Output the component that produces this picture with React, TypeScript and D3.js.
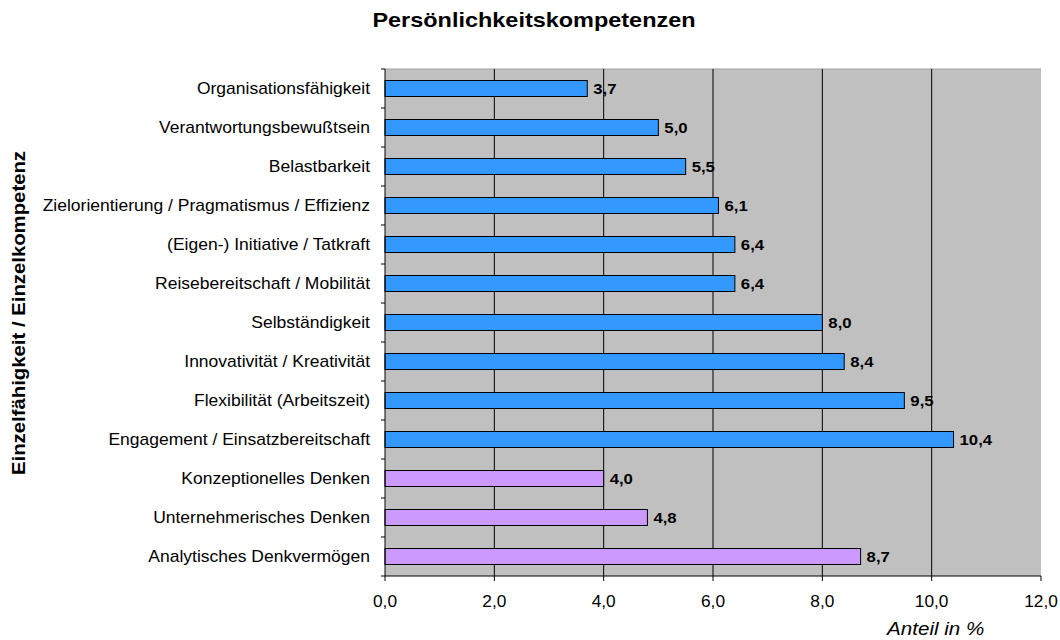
import React from 'react';
import * as d3 from 'd3';

const categories = [
  'Organisationsfähigkeit',
  'Verantwortungsbewußtsein',
  'Belastbarkeit',
  'Zielorientierung / Pragmatismus / Effizienz',
  '(Eigen-) Initiative / Tatkraft',
  'Reisebereitschaft / Mobilität',
  'Selbständigkeit',
  'Innovativität / Kreativität',
  'Flexibilität (Arbeitszeit)',
  'Engagement / Einsatzbereitschaft',
  'Konzeptionelles Denken',
  'Unternehmerisches Denken',
  'Analytisches Denkvermögen'
];
const values = [3.7, 5.0, 5.5, 6.1, 6.4, 6.4, 8.0, 8.4, 9.5, 10.4, 4.0, 4.8, 8.7];
// group: 0 = blue, 1 = purple
const groups = [0, 0, 0, 0, 0, 0, 0, 0, 0, 0, 1, 1, 1];
const xTicks = [0, 2, 4, 6, 8, 10, 12];

const colors = ['#3399ff', '#cc99ff'];
const font = 'Arial, "Liberation Sans", sans-serif';
const fmt = (v: number) => d3.format('.1f')(v).replace('.', ',');

const settings = {
  margin: { top: 69, right: 19, bottom: 64, left: 385 },
  width: 1060,
  height: 640
};

// the reference text runs a little wider than plain Arial, so stretch it sideways
const T = (props: any) => {
  const { x, y, sx = 1, rot = 0, children, ...rest } = props;
  return (
    <text transform={`translate(${x},${y}) rotate(${rot}) scale(${sx},1)`} {...rest}>{children}</text>
  );
};

export default function App() {
  const { margin, width, height } = settings;
  const innerW = width - margin.left - margin.right;
  const innerH = height - margin.top - margin.bottom;

  const x = d3.scaleLinear().domain([0, 12]).range([0, innerW]);
  const y = d3.scaleBand().domain(categories).range([0, innerH]).paddingInner(0.59).paddingOuter(0.295);
  const band = innerH / categories.length;
  const mid = (c: string) => (y(c) as number) + y.bandwidth() / 2;

  return (
    <svg width={width} height={height} style={{ position: 'absolute', left: 0, top: 0, background: '#fff' }} fontFamily={font}>
      <T x={534} y={26.5} sx={1.15} textAnchor="middle" fontSize={20.4} fontWeight="bold">Persönlichkeitskompetenzen</T>
      <g transform={`translate(${margin.left},${margin.top})`}>
        <rect x={0} y={0} width={innerW} height={innerH} fill="#c0c0c0" />
        <line x1={0} x2={innerW} y1={0} y2={0} stroke="#a0a0a0" />
        {xTicks.slice(1, -1).map(t => (
          <line key={t} x1={x(t)} x2={x(t)} y1={0} y2={innerH} stroke="#000" strokeWidth={1} />
        ))}
        {categories.map((c, i) => (
          <g key={c}>
            <rect x={0} y={y(c)} width={x(values[i])} height={y.bandwidth()}
              fill={colors[groups[i]]} stroke="#000" strokeWidth={1} />
            <T x={x(values[i]) + 6} y={mid(c) + 5.5} sx={1.08}
              fontSize={15.5} fontWeight="bold">{fmt(values[i])}</T>
            <T x={-15} y={mid(c) + 5.5} sx={1.08}
              fontSize={16.2} textAnchor="end">{c}</T>
          </g>
        ))}
        {/* y axis line and ticks at category boundaries */}
        <line x1={0} x2={0} y1={0} y2={innerH} stroke="#000" />
        {d3.range(categories.length + 1).map(i => (
          <line key={i} x1={-4} x2={0} y1={i * band} y2={i * band} stroke="#000" />
        ))}
        {/* x axis */}
        <line x1={0} x2={innerW} y1={innerH} y2={innerH} stroke="#000" />
        {xTicks.map(t => (
          <g key={t}>
            <line x1={x(t)} x2={x(t)} y1={innerH} y2={innerH + 5} stroke="#000" />
            <T x={x(t)} y={innerH + 31} sx={1.08} textAnchor="middle" fontSize={16}>{fmt(t)}</T>
          </g>
        ))}
        <T x={x(10) + 4} y={innerH + 59} sx={1.17} textAnchor="middle" fontSize={17.6} fontStyle="italic">Anteil in %</T>
      </g>
      <T x={24.5} y={313} rot={-90} sx={1.13} textAnchor="middle"
        fontSize={18} fontWeight="bold">Einzelfähigkeit / Einzelkompetenz</T>
    </svg>
  );
}
